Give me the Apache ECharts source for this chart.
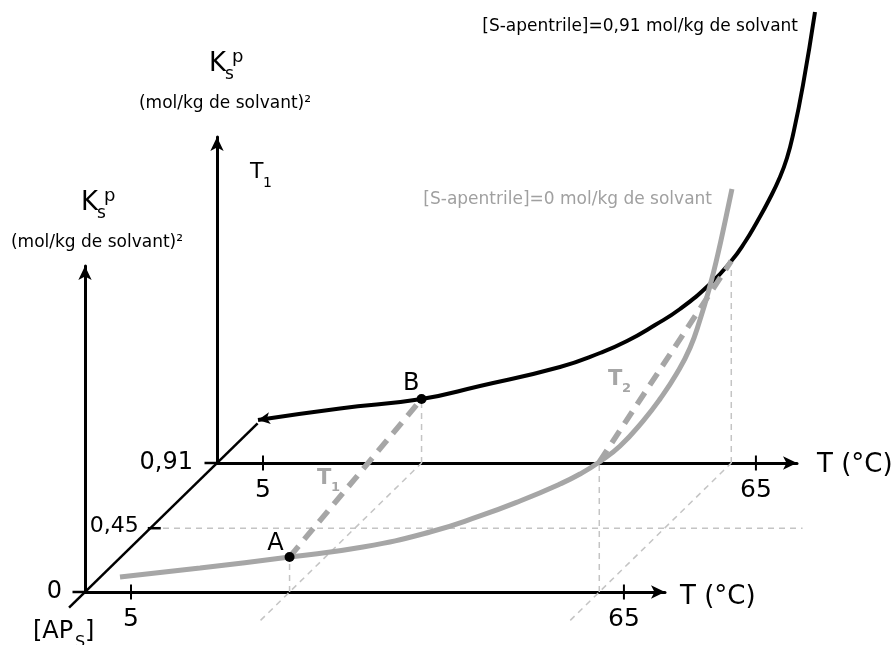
<!DOCTYPE html>
<html><head><meta charset="utf-8">
<script src="https://cdn.jsdelivr.net/npm/echarts@6/dist/echarts.min.js"></script>
<style>html,body{margin:0;padding:0;background:#fff}#c{width:894px;height:645px}</style>
</head><body><div id="c"></div>
<script>
// ---------------- data ----------------
const tempTicks = [5, 65];                 // T (°C) tick values
const apTicks = [0, 0.45, 0.91];           // [AP_S] depth ticks
const apTickLabels = ['0', '0,45', '0,91'];
const axisTitle = 'T (°C)';
// [S-apentrile] = 0 mol/kg (front plane) : T (°C) , Ksp (arbitrary units)
const grayT = [3.66, 13.4, 24.3, 33.24, 41.39, 47.48, 52.35, 57.22, 59.65, 62.0, 64.53, 67.32, 69.39, 71.46, 73.04, 74.25, 75.47, 76.44, 77.3, 78.15];
const grayK = [4.6, 7.36, 10.74, 13.8, 18.4, 23.32, 27.91, 33.13, 36.2, 39.88, 44.79, 52.45, 59.2, 67.18, 74.85, 83.44, 93.87, 103.68, 113.5, 123.62];
// [S-apentrile] = 0.91 mol/kg (back plane)
const blackT = [4.39, 14.37, 24.3, 31.41, 41.15, 46.02, 49.31, 52.72, 55.76, 59.41, 62.0, 63.67, 65.13, 66.59, 67.93, 68.78, 69.51, 70.73, 72.19];
const blackK = [13.19, 16.72, 19.63, 23.62, 29.45, 33.74, 37.42, 42.33, 47.24, 54.91, 61.96, 67.79, 73.93, 80.67, 87.73, 93.56, 100.61, 115.95, 138.34];
const T1 = 24.3, T2 = 62.0;
const kA = 10.74, kB = 19.63;           // points A (front) and B (back) at T1
const kT2front = 39.88, kT2back = 61.96; // T2 crossing points
const apBack = 0.91, apMid = 0.45;
const floorAP = [-0.2, 0.91];           // extent of the floor guide lines
const diagAP = [-0.11, 1.19];           // extent of the [AP_S] axis
const midLineT = [0.95, 78.8];          // extent of the 0,45 guide line

// ---------------- layout ----------------
const FONT = 'DejaVu Sans';
const W = 894, H = 645;
const X_MIN = -0.6, X_MAX = 70, Y_MAX = 100;
const FRONT = {left: 85, bottom: 53, width: 580, height: 326};
const BACK = {left: 217, bottom: 182, width: 580, height: 326};
const pxT = FRONT.width / (X_MAX - X_MIN), pxK = FRONT.height / Y_MAX;
const DT = (BACK.left - FRONT.left) / pxT / apBack;
const DK = (BACK.bottom - FRONT.bottom) / pxK / apBack;
// projection of (T, AP, Ksp) onto the front-plane coordinates
function P(T, ap, K) { return [T + ap * DT, K + ap * DK]; }

const GRAY = '#A6A6A6', LIGHT = '#C4C4C4';
const lightDash = {color: LIGHT, width: 1.5, type: [6, 5]};
const thickDash = {color: GRAY, width: 5.5, type: [14, 9]};
const D = 2; // drawing grid index (full canvas, hidden axes)

function seg(data, lineStyle, z, extra) {
  return Object.assign({type: 'line', xAxisIndex: D, yAxisIndex: D, data: data, symbol: 'none', showSymbol: false,
    silent: true, animation: false, lineStyle: lineStyle, z: z}, extra || {});
}
const solid = {color: '#000', opacity: 1};

const series = [];
// light dashed guide lines
series.push(seg([P(T1, floorAP[0], 0), P(T1, floorAP[1], 0)], lightDash, 1));
series.push(seg([P(T2, floorAP[0], 0), P(T2, floorAP[1], 0)], lightDash, 1));
series.push(seg([P(midLineT[0], apMid, 0), P(midLineT[1], apMid, 0)], lightDash, 1));
series.push(seg([P(T1, 0, 0), P(T1, 0, kA)], lightDash, 1));
series.push(seg([P(T2, 0, 0), P(T2, 0, kT2front)], lightDash, 1));
series.push(seg([P(T1, apBack, 0), P(T1, apBack, kB)], lightDash, 1));
series.push(seg([P(T2, apBack, 0), P(T2, apBack, kT2back)], lightDash, 1));
// [AP_S] depth axis
series.push(seg([P(X_MIN, diagAP[0], 0), P(X_MIN, diagAP[1], 0)], {color: '#000', width: 2.5}, 3));
// black curve (back plane)
series.push(seg(blackT.map((t, i) => P(t, apBack, blackK[i])), {color: '#000', width: 4}, 4, {smooth: 0.5}));
series.push({type: 'scatter', xAxisIndex: D, yAxisIndex: D, data: [P(blackT[0], apBack, blackK[0])], symbol: 'arrow',
  symbolSize: [9, 12], symbolRotate: 99, itemStyle: solid, silent: true, z: 5});
// gray curve (front plane)
series.push(seg(grayT.map((t, i) => P(t, 0, grayK[i])), {color: GRAY, width: 5}, 6, {smooth: 0.5}));
// thick dashed T1 / T2
series.push(seg([P(T1, 0, kA), P(T1, apBack, kB)], thickDash, 7));
series.push(seg([P(T2, 0, kT2front), P(T2, apBack, kT2back)], thickDash, 7));
// points A and B
const lab = {fontSize: 24, fontFamily: FONT, color: '#000'};
series.push({type: 'scatter', xAxisIndex: D, yAxisIndex: D, silent: true, z: 9,
  symbolSize: 10, itemStyle: solid,
  data: [
    {value: P(T1, 0, kA), label: Object.assign({show: true, formatter: 'A', position: 'left', distance: 5, offset: [4, -13]}, lab)},
    {value: P(T1, apBack, kB), label: Object.assign({show: true, formatter: 'B', position: 'left', distance: 5, offset: [8, -15]}, lab)}
  ]});
// T-axis ticks (crossing the axis)
series.push({type: 'scatter', xAxisIndex: D, yAxisIndex: D, silent: true, z: 8, symbol: 'rect',
  symbolSize: [2, 15], itemStyle: solid,
  data: tempTicks.map(t => P(t, 0, 0)).concat(tempTicks.map(t => P(t, apBack, 0)))});
// AP ticks + labels
const apTickOffsets = [[-6, 0], [4, 0], [-6, 0]];
const apLabelDist = [23, 11.5, 24];
const apLabelSize = [24, 22, 24];
series.push({type: 'scatter', xAxisIndex: D, yAxisIndex: D, silent: true, z: 8, symbol: 'rect',
  symbolSize: [13, 2.5], itemStyle: solid,
  data: apTicks.map((a, i) => ({value: P(X_MIN, a, 0), symbolOffset: apTickOffsets[i]}))});
series.push({type: 'scatter', xAxisIndex: D, yAxisIndex: D, silent: true, z: 8, symbolSize: 0, itemStyle: solid,
  data: apTicks.map((a, i) => ({value: P(X_MIN, a, 0),
    label: {show: true, formatter: apTickLabels[i], position: 'left', distance: apLabelDist[i],
      fontSize: apLabelSize[i], fontFamily: FONT, color: '#000', offset: [0, i === 1 ? -2 : 0]}}))});
// axis titles "T (°C)" placed just past the end of each temperature axis
series.push({type: 'scatter', xAxisIndex: D, yAxisIndex: D, silent: true, z: 8, symbolSize: 0, itemStyle: solid,
  data: [
    {value: P(X_MAX, 0, 0), label: {show: true, formatter: axisTitle, position: 'right', distance: 15, offset: [0, 5],
      fontSize: 26, fontFamily: FONT, color: '#000'}},
    {value: P(X_MAX, apBack, 0), label: {show: true, formatter: axisTitle, position: 'right', distance: 20, offset: [0, 2],
      fontSize: 26, fontFamily: FONT, color: '#000'}}
  ]});

function axisX(gi) {
  return {type: 'value', gridIndex: gi, min: X_MIN, max: X_MAX,
    axisLine: {show: true, onZero: false, symbol: ['none', 'arrow'], symbolSize: [10, 14], lineStyle: {color: '#000', width: 3}},
    axisTick: {show: false}, splitLine: {show: false},
    axisLabel: {customValues: tempTicks, fontSize: 25, fontFamily: FONT, color: '#000', margin: 15}};
}
function axisY(gi) {
  return {type: 'value', gridIndex: gi, min: 0, max: Y_MAX,
    axisLine: {show: true, onZero: false, symbol: ['none', 'arrow'], symbolSize: [10, 14], lineStyle: {color: '#000', width: 3}},
    axisTick: {show: false}, splitLine: {show: false}, axisLabel: {show: false}};
}
const hiddenX = {type: 'value', gridIndex: D, show: false,
  min: X_MIN - FRONT.left / pxT, max: X_MIN + (W - FRONT.left) / pxT};
const hiddenY = {type: 'value', gridIndex: D, show: false,
  min: -FRONT.bottom / pxK, max: (H - FRONT.bottom) / pxK};

function txt(x, y, text, size, opts) {
  opts = opts || {};
  return {type: 'text', x: x, y: y, silent: true, z: 20,
    style: {text: text, fontSize: size, fontFamily: FONT, fontWeight: opts.bold ? 'bold' : 'normal',
      fill: opts.color || '#000', align: opts.align || 'left', verticalAlign: 'middle'}};
}
function kspLabel(dx, dy) {
  return [
    txt(81 + dx, 203 + dy, 'K', 26),
    txt(97 + dx, 214 + dy, 's', 17),
    txt(104 + dx, 196 + dy, 'p', 18),
    txt(97 + dx, 243 + dy, '(mol/kg de solvant)²', 17, {align: 'center'})
  ];
}

const graphic = [].concat(
  kspLabel(0, 0), kspLabel(128, -139),
  [
    txt(798, 27, '[S-apentrile]=0,91 mol/kg de solvant', 17, {align: 'right'}),
    txt(712, 200, '[S-apentrile]=0 mol/kg de solvant', 17, {align: 'right', color: '#A0A0A0'}),
    txt(250, 172, 'T', 22), txt(263, 183, '1', 14),
    txt(317, 479, 'T', 21, {bold: true, color: GRAY}), txt(331, 488, '1', 13, {bold: true, color: GRAY}),
    txt(608, 380, 'T', 21, {bold: true, color: GRAY}), txt(622, 389, '2', 13, {bold: true, color: GRAY}),
    txt(33, 632, '[AP', 24), txt(75, 643, 'S', 16), txt(85, 632, ']', 24)
  ]
);

const chart = echarts.init(document.getElementById('c'), null, {renderer: 'canvas'});
chart.setOption({
  animation: false,
  backgroundColor: '#fff',
  grid: [
    {left: FRONT.left, bottom: FRONT.bottom, width: FRONT.width, height: FRONT.height},
    {left: BACK.left, bottom: BACK.bottom, width: BACK.width, height: BACK.height},
    {left: 0, top: 0, width: W, height: H}
  ],
  xAxis: [axisX(0), axisX(1), hiddenX],
  yAxis: [axisY(0), axisY(1), hiddenY],
  series: series,
  graphic: graphic
});
</script></body></html>
